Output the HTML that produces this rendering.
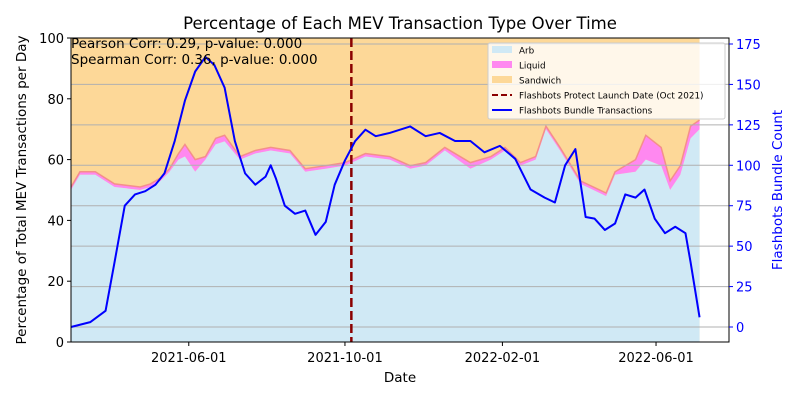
<!DOCTYPE html>
<html><head><meta charset="utf-8"><style>
body{margin:0;background:#fff;}
svg{font-family:"DejaVu Sans","Liberation Sans",sans-serif;}
</style></head><body>
<svg id="chart" width="800" height="400" viewBox="0 0 800 400" xmlns="http://www.w3.org/2000/svg"></svg>
<script>
// data (days since 2021-03-01)
const arbDays=[0,7,19,34,54,62,70,77,84,89,97,105,113,120,132,144,156,171,183,199,214,230,249,265,277,292,312,328,339,351,363,371,382,398,418,425,441,449,461,468,476,484,491];
const arbPct=[50,55,55,51,50,51,53,56,60,61,56,60,65,66,60,62,63,62,56,57,58,61,60,57,58,63,57,60,63,58,60,70,63,52,48,55,56,60,58,50,55,67,70];
const liquidPct=[1,1,1,1,1,1,1,1,2,4,4,1,2,2,1,1,1,1,1,1,1,1,1,1,1,1,2,1,1,1,1,1,1,1,1,1,4,8,6,3,3,4,3];
const bundleDays=[0,15,27,34,42,50,58,66,73,81,89,97,105,112,120,128,136,144,152,156,160,167,175,183,191,199,206,214,222,230,238,249,265,277,288,300,312,323,335,347,359,370,378,386,394,402,409,417,425,433,441,448,456,464,472,480,484,491];
const bundleCount=[0,3,10,40,75,82,84,88,95,115,140,158,167,162,148,115,95,88,93,100,92,75,70,72,57,65,88,103,115,122,118,120,124,118,120,115,115,108,112,104,85,80,77,100,110,68,67,60,64,82,80,85,67,58,62,58,40,6];
const leftTicks=[0,20,40,60,80,100];
const rightTicks=[0,25,50,75,100,125,150,175];
const dateTickDays=[92,214,337,457];
const dateTickLabels=["2021-06-01","2021-10-01","2022-02-01","2022-06-01"];
const launchDay=219;

const L=71,R=729,T=38,B=342;
const x=d=>L+d*(R-L)/514;
const yL=v=>B-v*(B-T)/100;
const yR=v=>327-v*283/175;
const svg=document.getElementById('chart');
const NS='http://www.w3.org/2000/svg';
function mk(tag,attrs,parent){const el=document.createElementNS(NS,tag);for(const k in attrs)el.setAttribute(k,attrs[k]);(parent||svg).appendChild(el);return el;}
function txt(s,attrs){const el=mk('text',attrs);el.textContent=s;return el;}

let e=mk('rect',{x:L,y:T,width:x(491)-L,height:B-T,fill:'#fdd898'});


const liqTop=arbDays.map((d,i)=>x(d)+','+yL(arbPct[i]+liquidPct[i]));
const liqBot=arbDays.map((d,i)=>x(d)+','+yL(arbPct[i])).reverse();
e=mk('polygon',{points:liqTop.concat(liqBot).join(' '),fill:'#ff88f0'});


e=mk('polyline',{points:liqTop.join(' '),fill:'none',stroke:'#f4908a','stroke-width':1.5});


e=mk('polygon',{points:[x(0)+','+B].concat(arbDays.map((d,i)=>x(d)+','+yL(arbPct[i]))).concat([x(491)+','+B]).join(' '),fill:'#d0e9f5'});


rightTicks.forEach(v=>{const g=mk('line',{x1:L,x2:R,y1:yR(v),y2:yR(v),stroke:'#b0b0b0','stroke-width':1});

});
e=mk('line',{x1:x(launchDay),x2:x(launchDay),y1:T,y2:B,stroke:'#8b0000','stroke-width':2.5,'stroke-dasharray':'9,4'});


e=mk('polyline',{points:bundleDays.map((d,i)=>x(d)+','+yR(bundleCount[i])).join(' '),fill:'none',stroke:'#0000ff','stroke-width':2,'stroke-linejoin':'round'});


e=mk('rect',{x:L,y:T,width:R-L,height:B-T,fill:'none',stroke:'#000','stroke-width':1});


leftTicks.forEach(v=>{mk('line',{x1:L-4,x2:L,y1:yL(v),y2:yL(v),stroke:'#000'});
const t=txt(String(v),{x:L-7,y:yL(v)+5,'text-anchor':'end','font-size':13});

});
rightTicks.forEach(v=>{mk('line',{x1:R,x2:R+4,y1:yR(v),y2:yR(v),stroke:'#0000ff'});
const t=txt(String(v),{x:R+7,y:yR(v)+5,'font-size':13,fill:'#0000ff'});

});
dateTickDays.forEach((d,i)=>{mk('line',{x1:x(d),x2:x(d),y1:B,y2:B+4,stroke:'#000'});
const t=txt(dateTickLabels[i],{x:x(d),y:B+20,'text-anchor':'middle','font-size':13});

});
e=txt('Percentage of Each MEV Transaction Type Over Time',{x:400,y:29,'text-anchor':'middle','font-size':16.5});


e=txt('Date',{x:400,y:382,'text-anchor':'middle','font-size':13.5});


e=txt('Percentage of Total MEV Transactions per Day',{x:0,y:0,'text-anchor':'middle','font-size':13.5,transform:'translate(26,190) rotate(-90)'});


e=txt('Flashbots Bundle Count',{x:0,y:0,'text-anchor':'middle','font-size':13.5,fill:'#0000ff',transform:'translate(782,190) rotate(-90)'});


e=txt('Pearson Corr: 0.29, p-value: 0.000',{x:71,y:48,'font-size':13.5});


e=txt('Spearman Corr: 0.36, p-value: 0.000',{x:71,y:64,'font-size':13.5});


const lg=mk('g',{});


mk('rect',{x:488,y:43,width:237,height:76,fill:'#fff','fill-opacity':0.8,stroke:'#ccc',rx:2},lg);
const items=[['Arb','#d0e9f5','box'],['Liquid','#ff88f0','box'],['Sandwich','#fdd898','box'],['Flashbots Protect Launch Date (Oct 2021)','#8b0000','dash'],['Flashbots Bundle Transactions','#0000ff','line']];
items.forEach((it,i)=>{const yy=50+i*15;
if(it[2]==='box')mk('rect',{x:492,y:yy-4,width:20,height:7,fill:it[1]},lg);
else mk('line',{x1:492,x2:512,y1:yy,y2:yy,stroke:it[1],'stroke-width':2,'stroke-dasharray':it[2]==='dash'?'6,3':'none'},lg);
const t=document.createElementNS(NS,'text');t.setAttribute('x',519);t.setAttribute('y',yy+3.5);t.setAttribute('font-size',8.8);t.textContent=it[0];lg.appendChild(t);

});
</script>
</body></html>
